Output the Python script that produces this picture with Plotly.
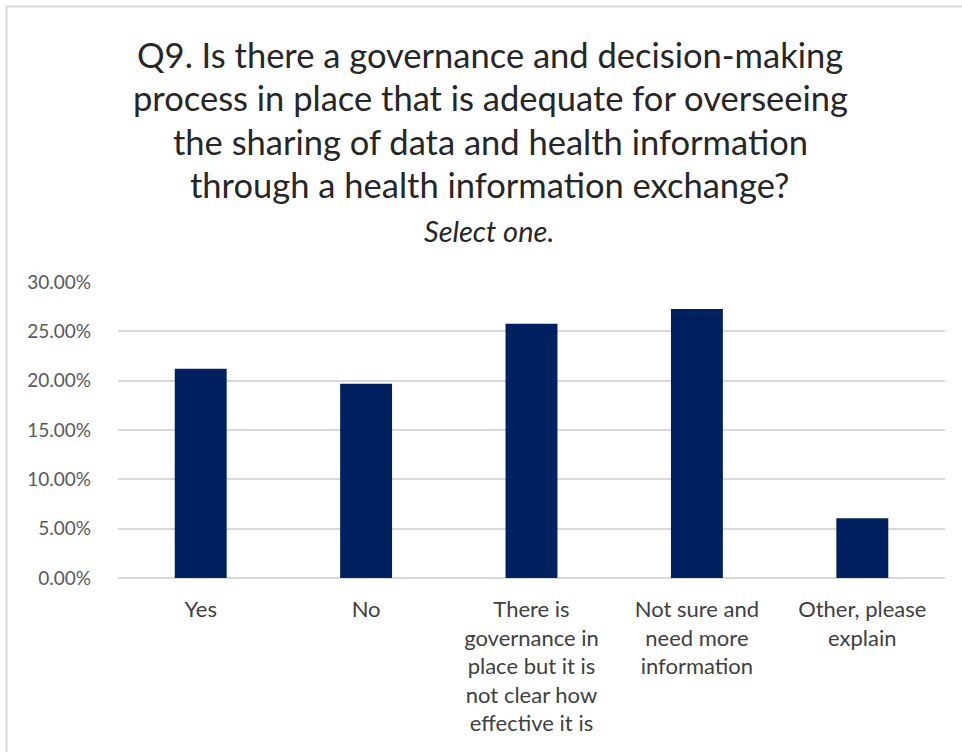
import plotly.graph_objects as go

categories = ["Yes", "No",
              "There is<br>governance in<br>place but it is<br>not clear how<br>effective it is",
              "Not sure and<br>need more<br>information",
              "Other, please<br>explain"]
values = [0.2121, 0.1970, 0.2576, 0.2727, 0.0606]
y_ticks = [0, 0.05, 0.10, 0.15, 0.20, 0.25, 0.30]
title_lines = ["Q9. Is there a governance and decision-making",
               "process in place that is adequate for overseeing",
               "the sharing of data and health information",
               "through a health information exchange?"]
subtitle = "Select one."

W, H = 962, 752
L, R, T, B = 118, 945, 282, 578
pw, ph = R - L, B - T

def px(x):
    return (x - L) / pw

def py(y):
    return (B - y) / ph

FONT = "Lato"

fig = go.Figure(go.Bar(
    x=list(range(len(categories))), y=values,
    marker=dict(color="#002060", line=dict(width=0)),
    hoverinfo="skip",
))

annotations = []
for i, line in enumerate(title_lines):
    annotations.append(dict(text=line, xref="paper", yref="paper",
                            x=px(490), y=py(54 + i * 43.5), xanchor="center", yanchor="middle",
                            showarrow=False, font=dict(family=FONT, size=34.5, color="#262626")))
annotations.append(dict(text="<i>" + subtitle + "</i>", xref="paper", yref="paper",
                        x=px(489), y=py(230), xanchor="center", yanchor="middle",
                        showarrow=False, font=dict(family=FONT, size=29, color="#262626")))

fig.update_layout(
    width=W, height=H,
    margin=dict(l=L, r=W - R, t=T, b=H - B, pad=0),
    paper_bgcolor="white", plot_bgcolor="white",
    bargap=0.686,
    showlegend=False,
    annotations=annotations,
    shapes=[dict(type="rect", xref="paper", yref="paper",
                 x0=px(6.5), x1=px(1000), y0=py(800), y1=py(6.5),
                 line=dict(color="#d9d9d9", width=2), fillcolor="rgba(0,0,0,0)", layer="below")],
    xaxis=dict(tickmode="array", tickvals=list(range(len(categories))), ticktext=categories,
               range=[-0.5, len(categories) - 0.5], showgrid=False, zeroline=False,
               showline=False, ticks="", tickangle=0, ticklabelstandoff=16,
               tickfont=dict(family=FONT, size=22, color="#404040")),
    yaxis=dict(range=[0, 0.30], tickvals=y_ticks, tickformat=".2%",
               showgrid=True, gridcolor="#d9d9d9", gridwidth=1.5,
               zeroline=True, zerolinecolor="#d9d9d9", zerolinewidth=1.5,
               showline=False, ticks="", ticklabelstandoff=26,
               tickfont=dict(family=FONT, size=19, color="#595959")),
)

fig.write_html("out.html", config={"displayModeBar": False},
               post_script="document.body.style.margin='0';document.body.style.padding='0';")
